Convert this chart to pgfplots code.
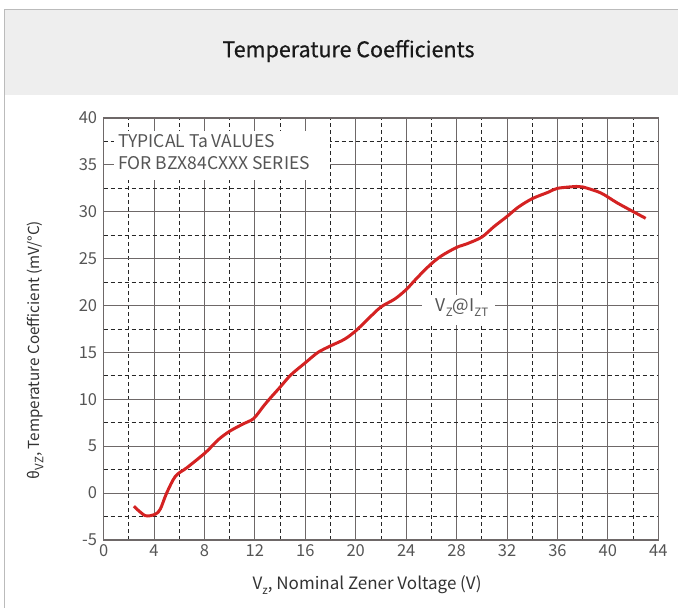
\documentclass[border=0pt]{standalone}
\usepackage{pgfplots}
\pgfplotsset{compat=1.18}
\usepackage{fontspec}
\setmainfont{Noto Sans CJK SC}
\newfontfamily\titlefont{Noto Sans CJK SC}[FakeBold=0.5]
\definecolor{gridsolid}{HTML}{6E6868}
\definecolor{txt}{HTML}{555555}
\definecolor{lbl}{HTML}{333333}
\definecolor{curvec}{HTML}{D42222}
\definecolor{band}{HTML}{EEEEEE}
\definecolor{frame}{HTML}{BBBBBB}
\newcommand{\sub}[1]{\raisebox{-0.28em}{\fontsize{11.5}{13}\selectfont #1}}
\begin{document}
\begin{tikzpicture}[x=1pt,y=1pt]
\path[use as bounding box] (0,0) rectangle (678,608);
\begin{scope}
\clip (0,0) rectangle (678,608);
\fill[band] (4,513) rectangle (700,598);
\draw[frame, line width=1pt] (4,-20) -- (4,598) -- (700,598);
\end{scope}
\node[font=\titlefont\fontsize{21.5}{25}\selectfont, text=black!90] at (348.5,557) {Temperature Coefficients};
\begin{axis}[
  at={(103.6pt,68pt)}, anchor=south west,
  scale only axis, width=554.7pt, height=422pt,
  xmin=0, xmax=44, ymin=-5, ymax=40,
  xtick={0,4,...,44}, minor xtick={2,6,...,42},
  ytick={-5,0,...,40}, minor ytick={-2.5,2.5,...,37.5},
  major tick length=0pt, minor tick length=0pt,
  grid=both,
  major grid style={solid, gridsolid, line width=1pt},
  minor grid style={black!85, dash pattern=on 4pt off 3pt, line width=0.8pt},
  axis line style={gridsolid, line width=1.2pt},
  /pgf/number format/assume math mode=true,
  tick label style={font=\fontsize{16.5}{19}\selectfont, text=txt},
  yticklabel style={xshift=-3pt},
  xticklabel style={yshift=-1pt},
  xlabel={V\sub{z}, Nominal Zener Voltage (V)},
  xlabel style={at={(axis description cs:0.475,-0.107)}, anchor=center, font=\fontsize{17}{20}\selectfont, text=lbl},
  ylabel={θ\sub{VZ}, Temperature Coefficient (mV/°C)},
  ylabel style={at={(axis description cs:-0.1237,0.45)}, anchor=center, rotate=0, font=\fontsize{15.2}{18}\selectfont, text=lbl},
]
\addplot[curvec, line width=3pt, smooth, tension=0.5] coordinates {
(2.4,-1.4) (3.3,-2.4) (4.1,-2.25) (4.5,-1.7) (5.0,0.0) (5.7,1.8) (6.6,2.7)
(7.8,4.0) (8.3,4.6) (9.1,5.7) (10.0,6.6) (11.1,7.4) (11.9,7.95) (12.7,9.3)
(13.2,10.1) (14.0,11.3) (14.85,12.6) (16,13.9) (17,15.0) (18,15.7) (19.1,16.4)
(20,17.3) (21,18.6) (22,19.85) (23.1,20.7) (24,21.7) (24.9,23.0) (25.95,24.4)
(26.8,25.3) (28,26.2) (28.85,26.6) (30,27.3) (30.95,28.4) (32,29.5) (32.9,30.5)
(34,31.4) (35.3,32.1) (36,32.5) (37.5,32.7) (38,32.65) (39.45,32.0) (40.8,30.9) (43,29.3)
};
\end{axis}
\fill[white] (114,477) rectangle (330,428);
\node[anchor=base west, font=\fontsize{17.5}{20}\selectfont, text=txt, inner sep=0pt] at (118,460) {TYPICAL Ta VALUES};
\node[anchor=base west, font=\fontsize{17.5}{20}\selectfont, text=txt, inner sep=0pt] at (118,438) {FOR BZX84CXXX SERIES};
\fill[white] (422,313) rectangle (495,283);
\node[font=\fontsize{17.5}{20}\selectfont, text=txt] at (462,300) {V\sub{Z}@I\sub{ZT}};
\end{tikzpicture}
\end{document}
